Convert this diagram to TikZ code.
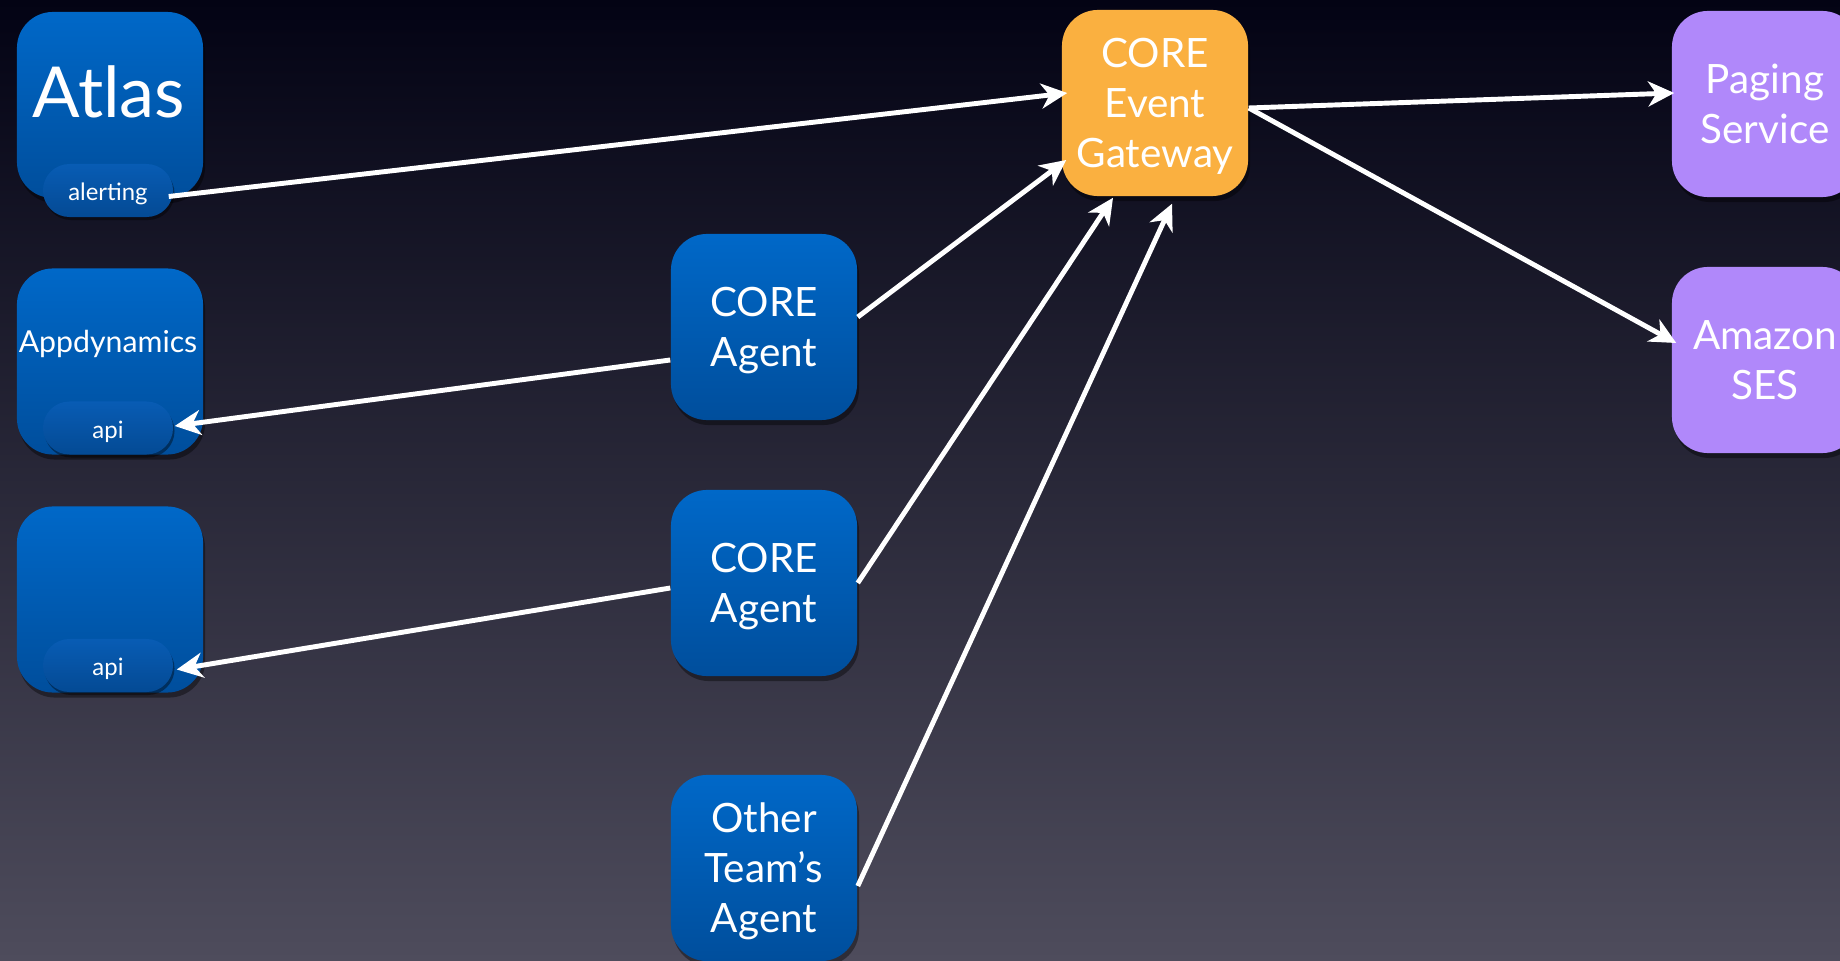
\documentclass[tikz,border=0pt]{standalone}
\usepackage{fontspec}
\setmainfont{Lato}
\usetikzlibrary{arrows.meta,shadows,calc}
\definecolor{bgTop}{RGB}{3,3,20}
\definecolor{bgMid}{RGB}{34,32,56}
\definecolor{bgBot}{RGB}{78,76,92}
\definecolor{blueT}{RGB}{0,104,200}
\definecolor{blueB}{RGB}{0,78,156}
\definecolor{pillT}{RGB}{8,92,180}
\definecolor{pillB}{RGB}{4,74,148}
\definecolor{gwOrange}{RGB}{250,176,64}
\definecolor{svcPurple}{RGB}{176,136,250}
\tikzset{
  box/.style={rounded corners=0.36cm, minimum width=1.86cm, minimum height=1.86cm,
    text=white, align=center, inner sep=0pt,
    font=\fontsize{11.5}{14.3}\selectfont,
    drop shadow={fill=black, opacity=0.4, shadow xshift=0.02cm, shadow yshift=-0.05cm}},
  twolines/.style={text height=22.6pt, text depth=0pt},
  threelines/.style={text height=36.9pt, text depth=0pt},
  bluebox/.style={box, top color=blueT, bottom color=blueB},
  gwbox/.style={box, fill=gwOrange},
  svcbox/.style={box, fill=svcPurple},
  pill/.style={rounded corners=0.265cm, minimum width=1.3cm, minimum height=0.53cm,
    inner sep=0pt, text=white, top color=pillT, bottom color=pillB,
    font=\fontsize{6.8}{8}\selectfont, text height=5.8pt, text depth=0pt,
    drop shadow={fill=black, opacity=0.4, shadow xshift=0.015cm, shadow yshift=-0.03cm}},
  lbl/.style={text=white, inner sep=0pt, anchor=base},
  conn/.style={draw=white, line width=1.4pt,
    -{Stealth[length=0.26cm,width=0.25cm,inset=0.08cm]}}
}
\begin{document}
\begin{tikzpicture}[x=0.01cm,y=-0.01cm]
\shade[top color=bgTop, middle color=bgMid, bottom color=bgBot] (0,0) rectangle (1840,961);
\useasboundingbox (0,0) rectangle (1840,961);

% left column
\node[bluebox] (atlas) at (110,105) {};
\node[lbl, font=\fontsize{20}{24}\selectfont] (atlaslbl) at (109,118) {Atlas};
\node[pill] (atlaspill) at (108,190.5) {alerting};

\node[bluebox] (appd) at (110,361.5) {};
\node[lbl, font=\fontsize{8.6}{10}\selectfont] (appdlbl) at (108,353) {Appdynamics};
\node[pill] (appdpill) at (108,428) {api};

\node[bluebox] (third) at (110,599.5) {};
\node[pill] (thirdpill) at (108,665.5) {api};

% agents
\node[bluebox, twolines] (agent1) at (764,327) {CORE\\Agent};
\node[bluebox, twolines] (agent2) at (764,583) {CORE\\Agent};
\node[bluebox, threelines] (other) at (764,868) {Other\\Team’s\\Agent};

% gateway and services
\node[gwbox, threelines] (gw) at (1155,103) {CORE\\Event\\Gateway};
\node[svcbox, twolines] (paging) at (1765,104) {Paging\\Service};
\node[svcbox, twolines] (amazon) at (1765,360) {Amazon\\SES};

% connectors
\draw[conn] ($(atlaspill.east)+(-5,6)$) -- ($(gw.west)+(6,-10)$);
\draw[conn] ($(agent1.east)+(0,-10)$) -- ($(gw.west)+(5,57)$);
\draw[conn] ($(agent1.west)+(0,33)$) -- ($(appdpill.east)+(1,-2)$);
\draw[conn] (agent2.east) -- ($(gw.south)+(-42,1)$);
\draw[conn] ($(agent2.west)+(0,5)$) -- ($(thirdpill.east)+(3,4)$);
\draw[conn] ($(other.east)+(0,18)$) -- ($(gw.south)+(17,7)$);
\draw[conn] ($(gw.east)+(0,5)$) -- ($(paging.west)+(3,-11)$);
\draw[conn] ($(gw.east)+(0,5)$) -- ($(amazon.west)+(5,-17)$);
\end{tikzpicture}
\end{document}
